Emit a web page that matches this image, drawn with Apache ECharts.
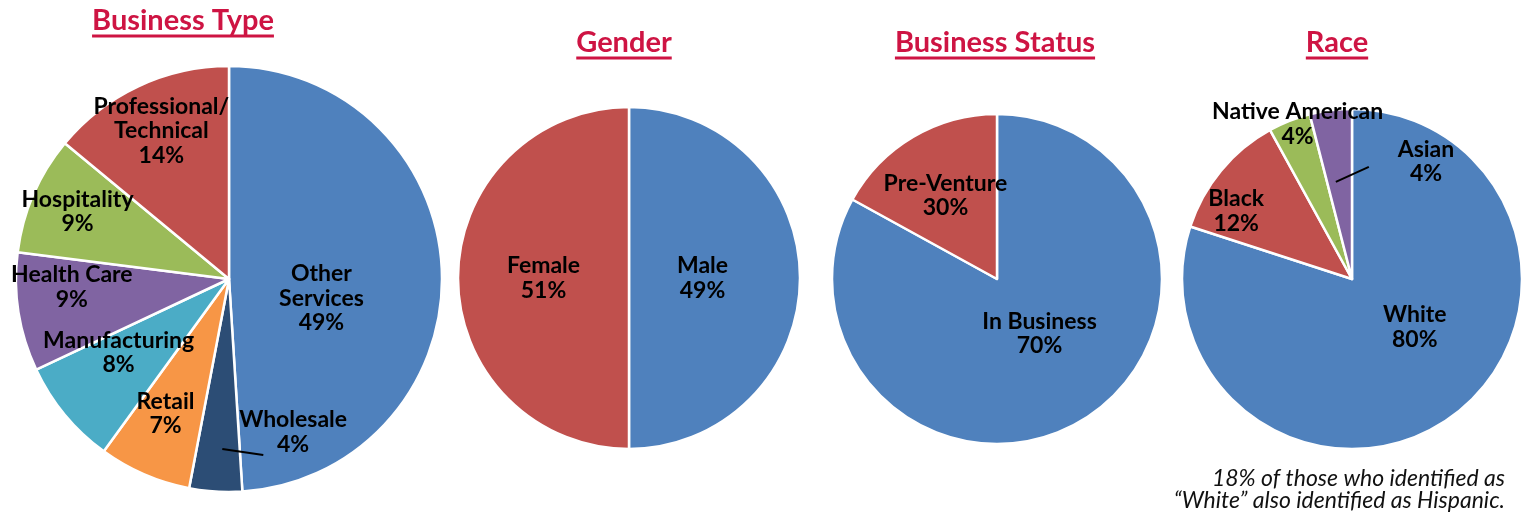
<!DOCTYPE html>
<html><head><meta charset="utf-8">
<script src="https://cdn.jsdelivr.net/npm/echarts@6/dist/echarts.min.js"></script>
<style>html,body{margin:0;padding:0;background:#fff}#c{width:1528px;height:512px}</style>
</head><body><div id="c"></div>
<script>
// ---- data ----
const titles = ['Business Type', 'Gender', 'Business Status', 'Race'];
const businessTypes = ['Other\nServices', 'Wholesale', 'Retail', 'Manufacturing', 'Health Care', 'Hospitality', 'Professional/\nTechnical'];
const businessTypePct = [49, 4, 7, 8, 9, 9, 14];
const genders = ['Male', 'Female'];
const genderPct = [49, 51];          // percentages printed on the reference
const genderSliceShare = [50, 50];   // slice sizes as drawn in the reference
const statuses = ['In Business', 'Pre-Venture'];
const statusPct = [70, 30];          // percentages printed on the reference
const statusSliceShare = [83, 17];   // slice sizes as drawn in the reference
const races = ['White', 'Black', 'Native American', 'Asian'];
const racePct = [80, 12, 4, 4];
const footnote = ['18% of those who identified as', '\u201CWhite\u201D also identified as Hispanic.'];

// ---- styling ----
const FONT = 'Lato, "Open Sans", sans-serif';
const TITLE_COLOR = '#CE1443';
const C = {blue:'#4F81BD', navy:'#2C4D75', orange:'#F79646', teal:'#4BACC6', purple:'#8064A2', green:'#9BBB59', red:'#C0504D'};

const pies = [
  {center:[229,279], r:213, names:businessTypes, values:businessTypePct,
   colors:[C.blue,C.navy,C.orange,C.teal,C.purple,C.green,C.red],
   shift:[[-17,23],[71,44],[-20,34],[-26,4],[-49,-9],[-51,-24],[-21,-49]]},
  {center:[629,278], r:171, names:genders, values:genderSliceShare, labelPct:genderPct,
   colors:[C.blue,C.red], shift:[[-15,0],[3,0]]},
  {center:[997,279], r:165, names:statuses, values:statusSliceShare, labelPct:statusPct,
   colors:[C.blue,C.red], shift:[[-1,-19],[-8,-10]]},
  {center:[1352,279], r:170, names:races, values:racePct,
   colors:[C.blue,C.red,C.green,C.purple], shift:[[11,-23],[-48,-12],[-22,-73],[85,-30]]}
];
const titleX = [183, 624, 995, 1337];
const titleY = [21, 43, 43, 43];

const chart = echarts.init(document.getElementById('c'), null, {renderer:'canvas'});

const series = pies.map((p, si) => ({
  type:'pie', center:p.center, radius:p.r, startAngle:90, clockwise:true,
  avoidLabelOverlap:false, silent:true, animation:false,
  itemStyle:{borderColor:'#fff', borderWidth:2.5},
  label:{show:true, position:'inside', color:'#000', fontFamily:FONT, fontWeight:'bold',
    fontSize:23, lineHeight:24.5,
    formatter: q => q.name + '\n' + (p.labelPct ? p.labelPct[q.dataIndex] : q.value) + '%'},
  labelLine:{show:false},
  labelLayout: q => ({dx:p.shift[q.dataIndex][0], dy:p.shift[q.dataIndex][1]}),
  emphasis:{disabled:true},
  data:p.names.map((n,i) => ({name:n, value:p.values[i], itemStyle:{color:p.colors[i]}}))
}));

// helper: point at fraction of radius and angle (deg clockwise from top) of a pie
function polar(p, frac, deg) {
  const a = deg * Math.PI / 180;
  return [p.center[0] + p.r*frac*Math.sin(a), p.center[1] - p.r*frac*Math.cos(a)];
}
function midAngle(p, idx) {
  const tot = p.values.reduce((a,b)=>a+b,0);
  let s = 0; for (let i=0;i<idx;i++) s += p.values[i];
  return (s + p.values[idx]/2) / tot * 360;
}

const graphics = [];
// titles with underline
const TFONT = 'bold 29px ' + FONT;
const ctx = document.createElement('canvas').getContext('2d');
ctx.font = TFONT;
titles.forEach((t,i) => {
  const w = ctx.measureText(t).width;
  graphics.push({type:'text', z:100, x:titleX[i], y:titleY[i], style:{text:t, fill:TITLE_COLOR,
    font:TFONT, textAlign:'center', textVerticalAlign:'middle'}});
  graphics.push({type:'line', z:100, shape:{x1:titleX[i]-w/2, y1:titleY[i]+15, x2:titleX[i]+w/2, y2:titleY[i]+15},
    style:{stroke:TITLE_COLOR, lineWidth:3}});
});
// leader lines (Wholesale, Asian)
const w0 = polar(pies[0], 0.8, midAngle(pies[0], 1));
graphics.push({type:'line', z:100, shape:{x1:w0[0]+4, y1:w0[1], x2:w0[0]+45, y2:w0[1]+6}, style:{stroke:'#000', lineWidth:2}});
const a0 = polar(pies[3], 0.57, midAngle(pies[3], 3));
graphics.push({type:'line', z:100, shape:{x1:a0[0]-4, y1:a0[1]-1, x2:a0[0]+29, y2:a0[1]-16}, style:{stroke:'#000', lineWidth:2}});
// footnote
footnote.forEach((t,i) => {
  graphics.push({type:'text', z:100, x:1505, y:479 + i*22, style:{text:t, fill:'#111',
    font:'italic 23px ' + FONT, textAlign:'right', textVerticalAlign:'middle'}});
});

chart.setOption({backgroundColor:'#fff', animation:false, series, graphic:graphics});
</script></body></html>
